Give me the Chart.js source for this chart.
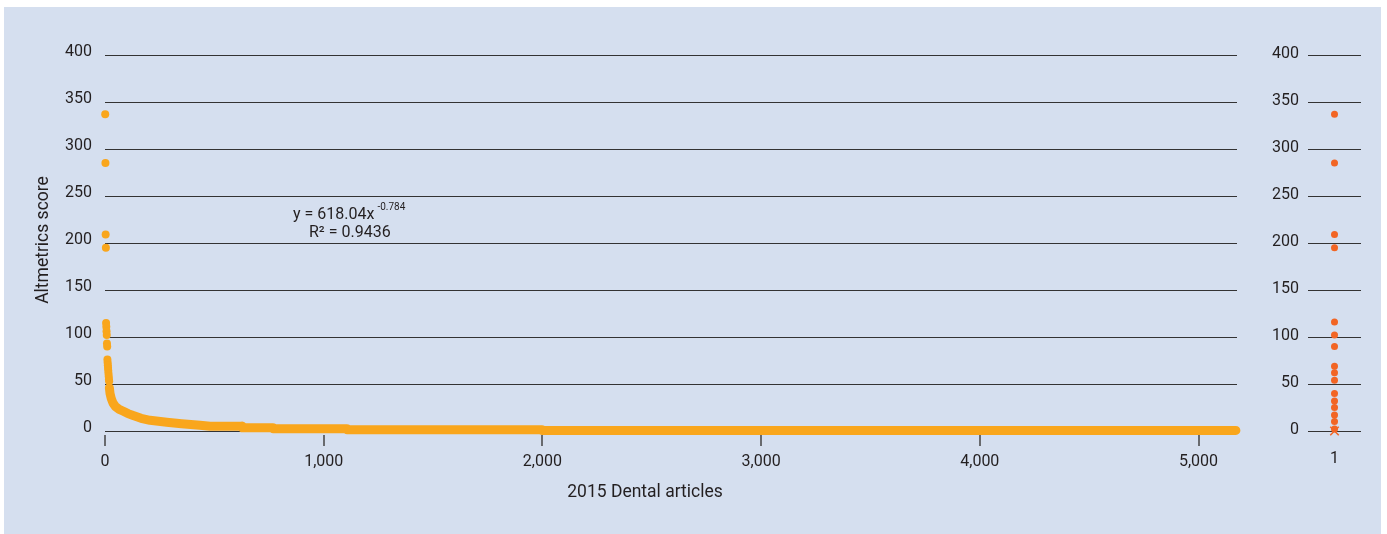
<!DOCTYPE html>
<html>
<head>
<meta charset="utf-8">
<script src="https://cdn.jsdelivr.net/npm/chart.js@4"></script>
<style>
  html, body { margin: 0; padding: 0; background: #fff; }
  #panel { position: absolute; left: 4px; top: 7px; width: 1377px; height: 527px; background: #d5dfef; }
  #main { position: absolute; left: 0; top: 0; width: 1270px; height: 534px; }
  #side { position: absolute; left: 1240px; top: 0; width: 141px; height: 534px; }
</style>
</head>
<body>
<div id="panel"></div>
<div id="main"><canvas id="mainChart"></canvas></div>
<div id="side"><canvas id="sideChart"></canvas></div>
<script>
// highest-ranked articles, drawn as separate dots
const topRanks = [1, 2, 3, 4, 5, 6, 7, 8, 9, 10, 11, 12, 13, 14, 15, 16, 17, 18, 19];
const topScores = [337, 285, 209, 195, 115, 111, 106, 102, 93, 90, 76, 73, 70, 67, 64, 61, 58, 55, 53];

// remaining ranked scores, so dense they read as one solid band
const tailRanks = [20, 23, 28, 36, 48, 65, 84, 105, 129, 165, 206, 282, 350, 434, 480, 627, 628, 768, 769, 1106, 1107, 1998, 1999, 5171];
const tailScores = [46, 40, 35, 30, 26, 23, 21, 18.5, 16.4, 13.5, 11.4, 9.4, 7.8, 6.2, 5.0, 5.0, 3.4, 3.4, 2.4, 2.4, 1.4, 1.4, 0.6, 0.6];

const xTicks = [0, 1000, 2000, 3000, 4000, 5000];

// single-column strip on the right
const sideLabels = ['1'];
const sideScores = [337, 285, 209, 195, 116, 102, 90, 69, 62, 54, 40, 32, 25, 17, 10, 2];
const sideMarker = [0];

const ORANGE = '#f9a61c';
const RED = '#f26524';
const INK = '#231f20';
const GRID = '#333333';

Chart.defaults.font.family = 'Roboto';
Chart.defaults.font.size = 16;
Chart.defaults.color = INK;

// short tick marks just below the data band
const xTickMarks = {
  id: 'xTickMarks',
  afterDraw(chart) {
    const { ctx } = chart;
    const x = chart.scales.x;
    ctx.save();
    ctx.strokeStyle = '#444444';
    ctx.lineWidth = 1.5;
    ctx.beginPath();
    xTicks.forEach(v => {
      const px = Math.round(x.getPixelForValue(v));
      ctx.moveTo(px, x.top + 4);
      ctx.lineTo(px, x.top + 15);
    });
    ctx.stroke();
    ctx.restore();
  }
};

// axis titles and the fitted power-law label
const annotations = {
  id: 'annotations',
  afterDraw(chart) {
    const { ctx } = chart;
    ctx.save();
    ctx.fillStyle = INK;
    ctx.font = '17.5px Roboto';
    ctx.textBaseline = 'middle';
    ctx.textAlign = 'center';
    ctx.fillText('2015 Dental articles', 645, 493);
    ctx.save();
    ctx.translate(44, 240);
    ctx.rotate(-Math.PI / 2);
    ctx.fillText('Altmetrics score', 0, 0);
    ctx.restore();

    ctx.font = '16px Roboto';
    ctx.textAlign = 'left';
    const eq = 'y = 618.04x';
    ctx.fillText(eq, 293, 215);
    const w = ctx.measureText(eq).width;
    ctx.font = '10px Roboto';
    ctx.fillText('-0.784', 293 + w + 3, 207);
    ctx.font = '16px Roboto';
    ctx.fillText('R\u00b2 = 0.9436', 309, 233);
    ctx.restore();
  }
};

new Chart(document.getElementById('mainChart'), {
  type: 'scatter',
  data: {
    datasets: [
      {
        data: topRanks.map((r, i) => ({ x: r, y: topScores[i] })),
        pointRadius: 4,
        backgroundColor: ORANGE,
        borderWidth: 0,
        clip: false
      },
      {
        data: tailRanks.map((r, i) => ({ x: r, y: tailScores[i] })),
        showLine: true,
        borderColor: ORANGE,
        borderWidth: 9,
        borderCapStyle: 'round',
        borderJoinStyle: 'round',
        pointRadius: 0,
        clip: false
      }
    ]
  },
  options: {
    responsive: true,
    maintainAspectRatio: false,
    animation: false,
    layout: { padding: { top: 55, right: 33, bottom: 0, left: 0 } },
    plugins: { legend: { display: false }, tooltip: { enabled: false } },
    scales: {
      x: {
        type: 'linear',
        min: 0,
        max: 5176,
        afterBuildTicks(scale) { scale.ticks = xTicks.map(v => ({ value: v })); },
        afterFit(scale) { scale.height = 103; },
        border: { display: false },
        grid: { display: false, drawTicks: false },
        ticks: { padding: 21, maxRotation: 0, callback: v => v.toLocaleString('en-US') }
      },
      y: {
        min: 0,
        max: 400,
        afterFit(scale) { scale.width = 105; },
        border: { display: false },
        grid: { color: GRID, drawTicks: false },
        ticks: { stepSize: 50, padding: 13, labelOffset: -3 }
      }
    }
  },
  plugins: [xTickMarks, annotations]
});

new Chart(document.getElementById('sideChart'), {
  type: 'scatter',
  data: {
    labels: sideLabels,
    datasets: [
      {
        data: sideScores.map(v => ({ x: sideLabels[0], y: v })),
        pointRadius: 3.5,
        backgroundColor: RED,
        borderWidth: 0,
        clip: false
      },
      {
        data: sideMarker.map(v => ({ x: sideLabels[0], y: v })),
        pointStyle: 'crossRot',
        pointRadius: 6,
        borderColor: RED,
        borderWidth: 1.5,
        clip: false
      }
    ]
  },
  options: {
    responsive: true,
    maintainAspectRatio: false,
    animation: false,
    layout: { padding: { top: 55, right: 20, bottom: 0, left: 0 } },
    plugins: { legend: { display: false }, tooltip: { enabled: false } },
    scales: {
      x: {
        type: 'category',
        labels: sideLabels,
        offset: true,
        afterFit(scale) { scale.height = 103; },
        border: { display: false },
        grid: { display: false },
        ticks: { padding: 10 }
      },
      y: {
        min: 0,
        max: 400,
        afterFit(scale) { scale.width = 68; },
        border: { display: false },
        grid: { color: GRID, drawTicks: false },
        ticks: { stepSize: 50, padding: 9, labelOffset: -1.5 }
      }
    }
  }
});
</script>
</body>
</html>
